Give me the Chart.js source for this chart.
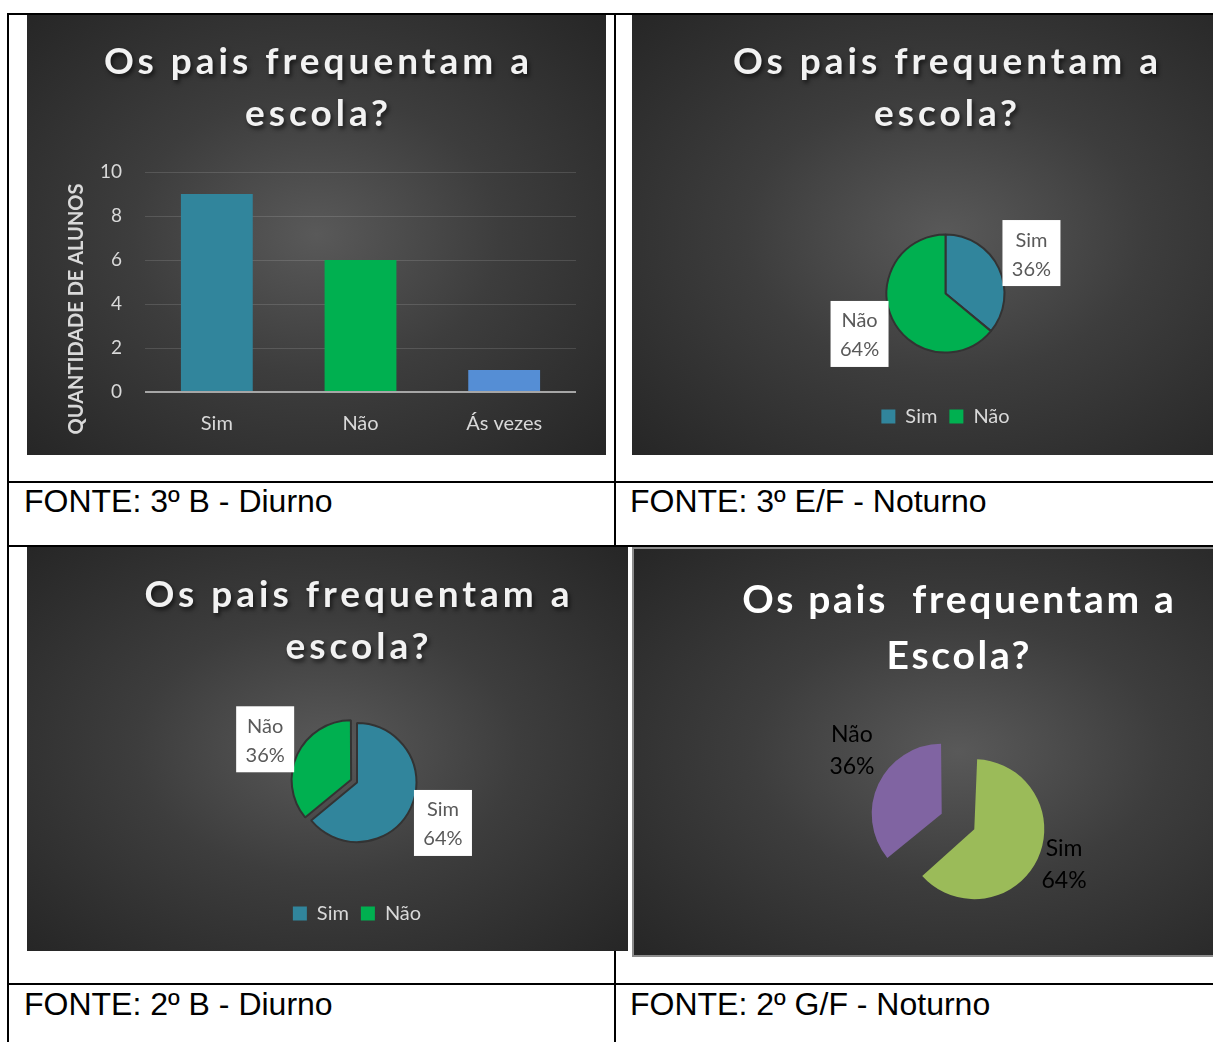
<!DOCTYPE html>
<html lang="pt-BR">
<head>
<meta charset="utf-8">
<title>Os pais frequentam a escola?</title>
<script src="https://cdn.jsdelivr.net/npm/chart.js@4.4.1/dist/chart.umd.min.js"></script>
<style>
  html, body { margin: 0; padding: 0; background: #fff; overflow: hidden; }
  #pagina { position: relative; width: 1213px; height: 1042px; overflow: hidden; }
  .linha { position: absolute; background: #000; }
  .painel {
    position: absolute; overflow: hidden; box-sizing: border-box;
    background: radial-gradient(ellipse farthest-corner at 50% 50%, #595959 0%, #3d3d3d 45%, #262626 100%);
  }
  .painel canvas { position: absolute; left: 0; top: 0; }
  .titulo {
    position: absolute; left: 0; width: 100%; box-sizing: border-box;
    text-align: center; font-family: Lato, sans-serif; font-weight: 700;
    color: #f2f2f2; white-space: pre;
  }
  .titulo.espacado {
    font-size: 37px; line-height: 52px; letter-spacing: 4px; padding-left: 4px;
    text-shadow: 2px 3px 4px rgba(0, 0, 0, 0.6);
  }
  .titulo.simples { font-size: 39px; line-height: 56px; letter-spacing: 2.7px; padding-left: 2.7px; color: #fff; }
  .fonte {
    position: absolute; font-family: "Liberation Sans", Arial, sans-serif;
    font-size: 32px; line-height: 34px; color: #000; white-space: nowrap;
  }
</style>
</head>
<body>
<div id="pagina">

  <!-- 3º B - Diurno : barras -->
  <div class="painel" style="left:27px; top:14px; width:579px; height:441px;">
    <canvas id="graficoBarras" width="579" height="441"></canvas>
    <div class="titulo espacado" style="top:20px;">Os pais frequentam a
escola?</div>
  </div>

  <!-- 3º E/F - Noturno -->
  <div class="painel" style="left:632px; top:14px; width:627px; height:441px;">
    <canvas id="graficoPizzaEF" width="627" height="441"></canvas>
    <div class="titulo espacado" style="top:20px;">Os pais frequentam a
escola?</div>
  </div>

  <!-- 2º B - Diurno -->
  <div class="painel" style="left:27px; top:547px; width:601px; height:404px;">
    <canvas id="graficoPizza2B" width="601" height="404"></canvas>
    <div class="titulo espacado" style="top:20px; left:59px; width:542px;">Os pais frequentam a
escola?</div>
  </div>

  <!-- 2º G/F - Noturno -->
  <div class="painel" style="left:632px; top:547px; width:652px; height:410px; border:2px solid #8c8c8c;">
    <canvas id="graficoPizzaGF" width="648" height="406"></canvas>
    <div class="titulo simples" style="top:21px;">Os pais  frequentam a
Escola?</div>
  </div>

  <!-- grade da tabela -->
  <div class="linha" style="left:7px; top:13px; width:1206px; height:2px;"></div>
  <div class="linha" style="left:7px; top:13px; width:2px; height:1029px;"></div>
  <div class="linha" style="left:614px; top:13px; width:2px; height:534px;"></div>
  <div class="linha" style="left:614px; top:951px; width:2px; height:91px;"></div>
  <div class="linha" style="left:7px; top:481px; width:1206px; height:2px;"></div>
  <div class="linha" style="left:7px; top:545px; width:1206px; height:2px;"></div>
  <div class="linha" style="left:7px; top:983px; width:1206px; height:2px;"></div>

  <div class="fonte" style="left:24px; top:484px;">FONTE: 3º B - Diurno</div>
  <div class="fonte" style="left:630px; top:484px;">FONTE: 3º E/F - Noturno</div>
  <div class="fonte" style="left:24px; top:987px;">FONTE: 2º B - Diurno</div>
  <div class="fonte" style="left:630px; top:987px;">FONTE: 2º G/F - Noturno</div>
</div>

<script>
// ─── Dados ──────────────────────────────────────────────────────────
const categoriasBarra = ['Sim', 'Não', 'Ás vezes'];
const alunosBarra     = [9, 6, 1];
const ticksBarra      = [0, 2, 4, 6, 8, 10];

const categoriasPizza = ['Sim', 'Não'];
const pizza3EF = [36, 64];   // 3º E/F - Noturno
const pizza2B  = [64, 36];   // 2º B - Diurno
const pizza2GF = [64, 36];   // 2º G/F - Noturno

const cores = {
    sim:     '#31859c',
    nao:     '#00b050',
    asVezes: '#558ed5',
    roxo:    '#8064a2',
    oliva:   '#9bbb59',
    texto:   '#d9d9d9'
};

// ─── Plugins ────────────────────────────────────────────────────────

// título do eixo Y (centrado como no Excel, não no eixo)
const pluginTituloEixo = {
    id: 'tituloEixo',
    afterDraw(chart, args, opts) {
        const ctx = chart.ctx;
        ctx.save();
        ctx.translate(opts.x, opts.y);
        ctx.rotate(-Math.PI / 2);
        ctx.font = 'bold 20px Lato';
        ctx.fillStyle = cores.texto;
        ctx.textAlign = 'center';
        ctx.textBaseline = 'middle';
        ctx.fillText(opts.texto, 0, 0);
        ctx.restore();
    }
};

// fatia destacada: o Chart.js aumenta o raio junto com o deslocamento, aqui desfaz isso
const pluginExplodir = {
    id: 'explodir',
    beforeDatasetsDraw(chart) {
        const raio = chart.data.datasets[0].radius;
        chart.getDatasetMeta(0).data.forEach((arco) => {
            const desloc = (arco.options.offset || 0) / 4;
            if (!desloc) return;
            const circ = arco.endAngle - arco.startAngle;
            const fix = 1 - Math.sin(Math.min(Math.PI, circ));
            arco.outerRadius = raio - desloc * fix;
        });
    }
};

// rótulos "Sim / 36%" fora da pizza
const pluginRotulos = {
    id: 'rotulos',
    afterDatasetsDraw(chart, args, opts) {
        const ctx = chart.ctx;
        const dados = chart.data.datasets[0].data;
        const total = dados.reduce((a, b) => a + b, 0);
        ctx.save();
        ctx.font = opts.tamanho + 'px Lato';
        ctx.textAlign = 'center';
        ctx.textBaseline = 'middle';
        chart.getDatasetMeta(0).data.forEach((arco, i) => {
            const meio = (arco.startAngle + arco.endAngle) / 2;
            const dist = opts.distancia + (arco.options.offset || 0) / 4;
            const ajuste = (opts.ajustes && opts.ajustes[i]) || [0, 0];
            const cx = arco.x + Math.cos(meio) * dist + ajuste[0];
            const cy = arco.y + Math.sin(meio) * dist + ajuste[1];
            if (opts.caixa) {
                ctx.fillStyle = '#ffffff';
                ctx.fillRect(cx - opts.caixa[0] / 2, cy - opts.caixa[1] / 2, opts.caixa[0], opts.caixa[1]);
            }
            ctx.fillStyle = opts.cor;
            ctx.fillText(chart.data.labels[i], cx, cy - opts.entrelinha / 2 + 1.5);
            ctx.fillText(Math.round(dados[i] / total * 100) + '%', cx, cy + opts.entrelinha / 2 + 1.5);
        });
        ctx.restore();
    }
};

// ─── Gráfico de barras: 3º B - Diurno ───────────────────────────────
new Chart(document.getElementById('graficoBarras'), {
    type: 'bar',
    data: {
        labels: categoriasBarra,
        datasets: [{
            data: alunosBarra,
            backgroundColor: [cores.sim, cores.nao, cores.asVezes],
            borderWidth: 0,
            barPercentage: 0.5,
            categoryPercentage: 1
        }]
    },
    plugins: [pluginTituloEixo],
    options: {
        responsive: false,
        animation: false,
        events: [],
        layout: { padding: { top: 158, right: 30, bottom: 0, left: 0 } },
        plugins: {
            legend: { display: false },
            tooltip: { enabled: false },
            tituloEixo: { texto: 'QUANTIDADE DE ALUNOS', x: 50, y: 295 }
        },
        scales: {
            x: {
                grid: { display: false, drawTicks: false },
                border: { display: false },
                ticks: { color: cores.texto, font: { family: 'Lato', size: 20 }, padding: 20 },
                afterFit: (s) => { s.height = 63; }
            },
            y: {
                min: ticksBarra[0],
                max: ticksBarra[ticksBarra.length - 1],
                afterBuildTicks: (s) => { s.ticks = ticksBarra.map(v => ({ value: v })); },
                ticks: { color: cores.texto, font: { family: 'Lato', size: 19 }, padding: 23 },
                grid: {
                    drawTicks: false,
                    color: (c) => c.tick && c.tick.value === 0 ? '#a6a6a6' : 'rgba(255,255,255,0.13)',
                    lineWidth: (c) => c.tick && c.tick.value === 0 ? 2 : 1
                },
                border: { display: false },
                afterFit: (s) => { s.width = 118; }
            }
        }
    }
});

// ─── Pizzas ─────────────────────────────────────────────────────────
function criarPizza(id, valores, fatias, cfg) {
    return new Chart(document.getElementById(id), {
        type: 'pie',
        data: {
            labels: categoriasPizza,
            datasets: [{
                data: valores,
                backgroundColor: fatias,
                borderColor: cfg.borda || 'rgba(0,0,0,0)',
                borderWidth: cfg.borda ? 2 : 0,
                offset: cfg.destaque,
                radius: cfg.raio
            }]
        },
        plugins: [pluginExplodir, pluginRotulos],
        options: {
            responsive: false,
            animation: false,
            events: [],
            layout: { padding: cfg.padding },
            plugins: {
                tooltip: { enabled: false },
                legend: {
                    display: cfg.legenda,
                    position: 'bottom',
                    labels: {
                        color: cores.texto,
                        font: { family: 'Lato', size: 20 },
                        boxWidth: 14,
                        boxHeight: 14,
                        padding: 12,
                        generateLabels: (chart) => Chart.overrides.pie.plugins.legend.labels
                            .generateLabels(chart).map(l => Object.assign(l, { lineWidth: 0 }))
                    }
                },
                rotulos: cfg.rotulos
            }
        }
    });
}

const rotuloCaixa = { tamanho: 20, cor: '#595959', caixa: [58, 66], entrelinha: 29, distancia: 95 };

criarPizza('graficoPizzaEF', pizza3EF, [cores.sim, cores.nao], {
    raio: 59, destaque: 0, borda: '#333333', legenda: true,
    padding: { top: 178.5, bottom: 18.5, left: 0, right: 0 },
    rotulos: rotuloCaixa
});

criarPizza('graficoPizza2B', pizza2B, [cores.sim, cores.nao], {
    raio: 59.5, destaque: [0, 26], borda: '#333333', legenda: true,
    padding: { top: 126.5, bottom: 17.5, left: 59, right: 0 },
    rotulos: rotuloCaixa
});

criarPizza('graficoPizzaGF', pizza2GF, [cores.oliva, cores.roxo], {
    raio: 70, destaque: 72, borda: null, legenda: false,
    padding: { top: 159, bottom: 20, left: 0, right: 0 },
    rotulos: { tamanho: 23, cor: '#000000', caixa: null, entrelinha: 32, distancia: 97, ajustes: [[2, -7], [-2, -23]] }
});
</script>
</body>
</html>
